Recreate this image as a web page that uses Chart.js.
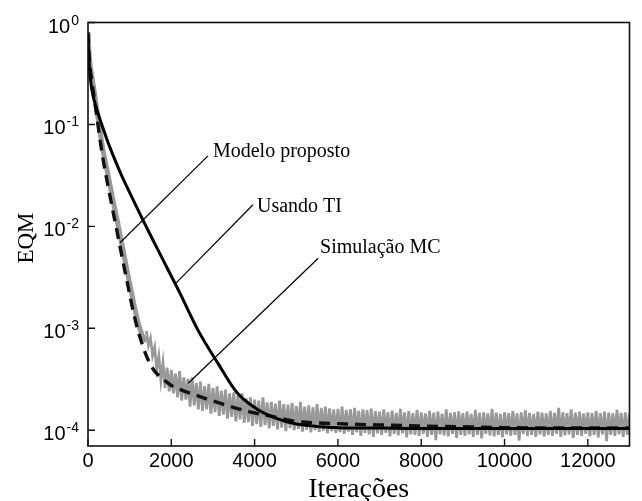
<!DOCTYPE html>
<html>
<head>
<meta charset="utf-8">
<script src="https://cdn.jsdelivr.net/npm/chart.js@4.4.1/dist/chart.umd.min.js"></script>
<style>
  html, body { margin: 0; padding: 0; background: #fff; }
  #wrap { width: 642px; height: 501px; position: relative; }
</style>
</head>
<body>
<div id="wrap"><canvas id="chart"></canvas></div>
<script>
// axis ticks
const xTickValues = [0, 2000, 4000, 6000, 8000, 10000, 12000];
const yTickExp = [0, -1, -2, -3, -4];
const yMin = 7.0e-5, yMax = 1;
const xMin = 0, xMax = 13000;

// Usando TI (solid)
const tiIter = [0, 20, 50, 100, 170, 250, 330, 450, 600, 800, 1090, 1320, 1600, 1900, 2210, 2640, 3110, 3590, 4070, 4540, 5000, 5500, 6000, 7000, 8000, 10000, 13000];
const tiEQM = [0.76, 0.45, 0.3, 0.21, 0.16, 0.125, 0.1, 0.072, 0.05, 0.032, 0.018, 0.0115, 0.0068, 0.0039, 0.0022, 9.6e-4, 4.6e-4, 2.3e-4, 1.6e-4, 1.3e-4, 1.15e-4, 1.09e-4, 1.06e-4, 1.05e-4, 1.04e-4, 1.04e-4, 1.04e-4];

// Modelo proposto (dashed)
const modIter = [0, 25, 60, 100, 150, 200, 280, 360, 480, 600, 720, 840, 960, 1080, 1200, 1300, 1400, 1500, 1600, 1730, 1850, 2000, 2280, 2740, 3240, 3860, 4370, 5000, 5500, 6000, 6500, 7300, 8000, 9000, 10000, 11000, 12000, 13000];
const modEQM = [0.8, 0.48, 0.33, 0.25, 0.18, 0.13, 0.075, 0.046, 0.025, 0.014, 8e-3, 4.5e-3, 2.6e-3, 1.5e-3, 9.5e-4, 7.0e-4, 5.4e-4, 4.4e-4, 3.8e-4, 3.35e-4, 3.05e-4, 2.75e-4, 2.45e-4, 2.1e-4, 1.8e-4, 1.52e-4, 1.38e-4, 1.22e-4, 1.18e-4, 1.16e-4, 1.14e-4, 1.12e-4, 1.1e-4, 1.08e-4, 1.06e-4, 1.05e-4, 1.05e-4, 1.05e-4];

// Simulação MC (gray) - first part
const mcIter = [0, 25, 60, 100, 150, 200, 280, 360, 480, 600, 720, 840, 960, 1080, 1200, 1300, 1400];
const mcEQM = [0.8, 0.5, 0.36, 0.28, 0.21, 0.15, 0.09, 0.056, 0.032, 0.018, 0.0104, 5.9e-3, 3.3e-3, 1.9e-3, 1.15e-3, 8.6e-4, 7.4e-4];

// Simulação MC (gray) - noisy part, one value every 50 iterations from 1400
const mcNoiseStart = 1400, mcNoiseStep = 50;
const mcNoiseEQM = [
  9.4e-4, 6.8e-4, 8.0e-4, 5.4e-4, 6.5e-4, 4.0e-4, 5.3e-4, 3.1e-4, 4.6e-4, 2.6e-4, 4.1e-4, 2.4e-4,
  3.9e-4, 2.3e-4, 3.6e-4, 2.1e-4, 3.8e-4, 1.95e-4, 3.3e-4, 2.0e-4, 3.2e-4, 1.7e-4, 3.3e-4, 1.75e-4, 2.9e-4, 1.6e-4, 3.0e-4, 1.55e-4, 2.7e-4, 1.6e-4, 2.85e-4, 1.45e-4,
  2.6e-4, 1.5e-4, 2.7e-4, 1.38e-4, 2.45e-4, 1.42e-4, 2.5e-4, 1.3e-4, 2.3e-4, 1.35e-4, 2.35e-4, 1.22e-4, 2.2e-4, 1.28e-4, 2.3e-4, 1.18e-4, 2.05e-4, 1.2e-4, 2.1e-4, 1.1e-4,
  2.0e-4, 1.15e-4, 1.95e-4, 1.08e-4, 2.1e-4, 1.12e-4, 1.88e-4, 1.04e-4, 1.9e-4, 1.1e-4, 1.82e-4, 1.02e-4, 1.95e-4, 1.06e-4, 1.8e-4, 0.98e-4, 1.78e-4, 1.05e-4, 1.85e-4, 1.0e-4,
  1.72e-4, 1.03e-4, 1.9e-4, 0.97e-4, 1.7e-4, 1.01e-4, 1.75e-4, 0.95e-4, 1.68e-4, 1.0e-4, 1.8e-4, 0.96e-4, 1.66e-4, 0.99e-4, 1.7e-4, 0.93e-4, 1.64e-4, 0.98e-4, 1.6e-4, 0.94e-4,
  1.62e-4, 0.96e-4, 1.7e-4, 0.92e-4, 1.58e-4, 0.97e-4, 1.6e-4, 0.9e-4, 1.66e-4, 0.95e-4, 1.55e-4, 0.88e-4, 1.6e-4, 0.94e-4, 1.57e-4, 0.91e-4, 1.63e-4, 0.86e-4, 1.54e-4, 0.93e-4,
  1.52e-4, 0.9e-4, 1.6e-4, 0.94e-4, 1.5e-4, 0.87e-4, 1.56e-4, 0.92e-4, 1.48e-4, 0.89e-4, 1.62e-4, 0.93e-4, 1.5e-4, 0.85e-4, 1.54e-4, 0.91e-4, 1.47e-4, 0.9e-4, 1.58e-4, 0.88e-4,
  1.5e-4, 0.92e-4, 1.46e-4, 0.86e-4, 1.55e-4, 0.9e-4, 1.49e-4, 0.8e-4, 1.52e-4, 0.91e-4, 1.45e-4, 0.89e-4, 1.6e-4, 0.87e-4, 1.48e-4, 0.92e-4, 1.5e-4, 0.84e-4, 1.53e-4, 0.9e-4,
  1.47e-4, 0.88e-4, 1.52e-4, 0.91e-4, 1.45e-4, 0.86e-4, 1.58e-4, 0.9e-4, 1.48e-4, 0.83e-4, 1.5e-4, 0.92e-4, 1.46e-4, 0.89e-4, 1.62e-4, 0.87e-4, 1.49e-4, 0.9e-4, 1.45e-4, 0.85e-4,
  1.5e-4, 0.91e-4, 1.47e-4, 0.88e-4, 1.54e-4, 0.9e-4, 1.46e-4, 0.79e-4, 1.5e-4, 0.92e-4, 1.57e-4, 0.88e-4, 1.48e-4, 0.9e-4, 1.45e-4, 0.86e-4, 1.52e-4, 0.91e-4, 1.49e-4, 0.87e-4,
  1.46e-4, 0.9e-4, 1.55e-4, 0.88e-4, 1.48e-4, 0.92e-4, 1.66e-4, 0.86e-4, 1.5e-4, 0.89e-4, 1.47e-4, 0.91e-4, 1.6e-4, 0.84e-4, 1.49e-4, 0.9e-4, 1.52e-4, 0.88e-4, 1.46e-4, 0.92e-4,
  1.5e-4, 0.87e-4, 1.48e-4, 0.9e-4, 1.55e-4, 0.85e-4, 1.47e-4, 0.91e-4, 1.52e-4, 0.78e-4, 1.49e-4, 0.9e-4, 1.46e-4, 0.88e-4, 1.58e-4, 0.91e-4, 1.48e-4, 0.86e-4, 1.5e-4, 0.9e-4,
  1.47e-4
];

// annotations: leader line start (on curve), end, and text anchor
const annLabels = ['Modelo proposto', 'Usando TI', 'Simulação MC'];
const annFromIter = [768, 2112, 2408];
const annFromEQM = [6.9e-3, 2.77e-3, 2.89e-4];
const annToIter = [2880, 3961, 5527];
const annToEQM = [0.0492, 0.0163, 4.87e-3];
const annTextIter = [3000, 4057, 5570];
const annTextEQM = [0.0481, 0.0139, 5.5e-3];

const SANS = "'Liberation Sans', Arial, Helvetica, sans-serif";
const SERIF = "'Liberation Serif', 'Times New Roman', serif";

function toPoints(xs, ys) {
  return xs.map((v, i) => ({ x: v, y: ys[i] }));
}

const mcNoisePoints = mcNoiseEQM.map((v, i) => ({ x: mcNoiseStart + i * mcNoiseStep, y: v }));

// frame, inward ticks, y labels with exponents, axis titles, leader lines
const decorations = {
  id: 'decorations',
  afterDatasetsDraw(chart) {
    const { ctx, chartArea: a, scales: { x, y } } = chart;
    ctx.save();

    // leader lines
    ctx.strokeStyle = '#000';
    ctx.lineWidth = 1.2;
    for (let i = 0; i < annLabels.length; i++) {
      ctx.beginPath();
      ctx.moveTo(x.getPixelForValue(annFromIter[i]), y.getPixelForValue(annFromEQM[i]));
      ctx.lineTo(x.getPixelForValue(annToIter[i]), y.getPixelForValue(annToEQM[i]));
      ctx.stroke();
    }
    ctx.fillStyle = '#000';
    ctx.font = '20px ' + SERIF;
    ctx.textAlign = 'left';
    ctx.textBaseline = 'alphabetic';
    for (let i = 0; i < annLabels.length; i++) {
      ctx.fillText(annLabels[i], x.getPixelForValue(annTextIter[i]), y.getPixelForValue(annTextEQM[i]));
    }

    // frame
    ctx.strokeStyle = '#111';
    ctx.lineWidth = 1.6;
    ctx.strokeRect(a.left, a.top, a.right - a.left, a.bottom - a.top);

    // inward ticks
    ctx.lineWidth = 1.4;
    ctx.beginPath();
    xTickValues.forEach(v => {
      const px = x.getPixelForValue(v);
      ctx.moveTo(px, a.bottom);
      ctx.lineTo(px, a.bottom - 7);
    });
    yTickExp.forEach(e => {
      const py = y.getPixelForValue(Math.pow(10, e));
      ctx.moveTo(a.left, py);
      ctx.lineTo(a.left + 7, py);
    });
    ctx.stroke();

    // y tick labels 10^e
    const right = a.left - 9;
    yTickExp.forEach(e => {
      const py = y.getPixelForValue(Math.pow(10, e));
      const expStr = String(e);
      ctx.font = '14px ' + SANS;
      const expW = ctx.measureText(expStr).width;
      ctx.fillText(expStr, right - expW, py + 2);
      ctx.font = '20px ' + SANS;
      const baseW = ctx.measureText('10').width;
      ctx.fillText('10', right - expW - 1 - baseW, py + 10);
    });

    // axis titles
    ctx.font = '28px ' + SERIF;
    ctx.textAlign = 'center';
    ctx.fillText('Iterações', (a.left + a.right) / 2, 497);
    ctx.translate(27, 238);
    ctx.rotate(-Math.PI / 2);
    ctx.font = '23px ' + SERIF;
    ctx.textBaseline = 'middle';
    ctx.fillText('EQM', 0, 0);

    ctx.restore();
  }
};

new Chart(document.getElementById('chart'), {
  type: 'line',
  data: {
    datasets: [
      {
        label: 'Usando TI',
        data: toPoints(tiIter, tiEQM),
        borderColor: '#000',
        borderWidth: 3,
        pointRadius: 0,
        cubicInterpolationMode: 'monotone'
      },
      {
        label: 'Modelo proposto',
        data: toPoints(modIter, modEQM),
        borderColor: '#111',
        borderWidth: 3.4,
        borderDash: [11, 7],
        pointRadius: 0,
        cubicInterpolationMode: 'monotone'
      },
      {
        label: 'Simulação MC',
        data: toPoints(mcIter, mcEQM),
        borderColor: '#999',
        borderWidth: 5,
        pointRadius: 0,
        cubicInterpolationMode: 'monotone'
      },
      {
        label: 'Simulação MC (ruído)',
        data: mcNoisePoints,
        borderColor: '#999',
        borderWidth: 2.8,
        pointRadius: 0,
        tension: 0
      }
    ]
  },
  options: {
    responsive: true,
    maintainAspectRatio: false,
    animation: false,
    devicePixelRatio: 1,
    layout: { padding: { left: 0, top: 22.5, right: 12.5, bottom: 0 } },
    plugins: {
      legend: { display: false },
      tooltip: { enabled: false }
    },
    scales: {
      x: {
        type: 'linear',
        min: xMin,
        max: xMax,
        afterBuildTicks: (scale) => { scale.ticks = xTickValues.map(v => ({ value: v })); },
        afterFit: (scale) => { scale.height = 55; },
        grid: { display: false, drawTicks: false },
        border: { display: false },
        ticks: {
          color: '#000',
          font: { family: SANS, size: 20 },
          padding: 3,
          maxRotation: 0,
          autoSkip: false,
          callback: (v) => String(v)
        }
      },
      y: {
        type: 'logarithmic',
        min: yMin,
        max: yMax,
        afterBuildTicks: (scale) => { scale.ticks = yTickExp.map(e => ({ value: Math.pow(10, e) })); },
        afterFit: (scale) => { scale.width = 88; },
        grid: { display: false, drawTicks: false },
        border: { display: false },
        ticks: { display: false }
      }
    }
  },
  plugins: [decorations]
});
</script>
</body>
</html>
